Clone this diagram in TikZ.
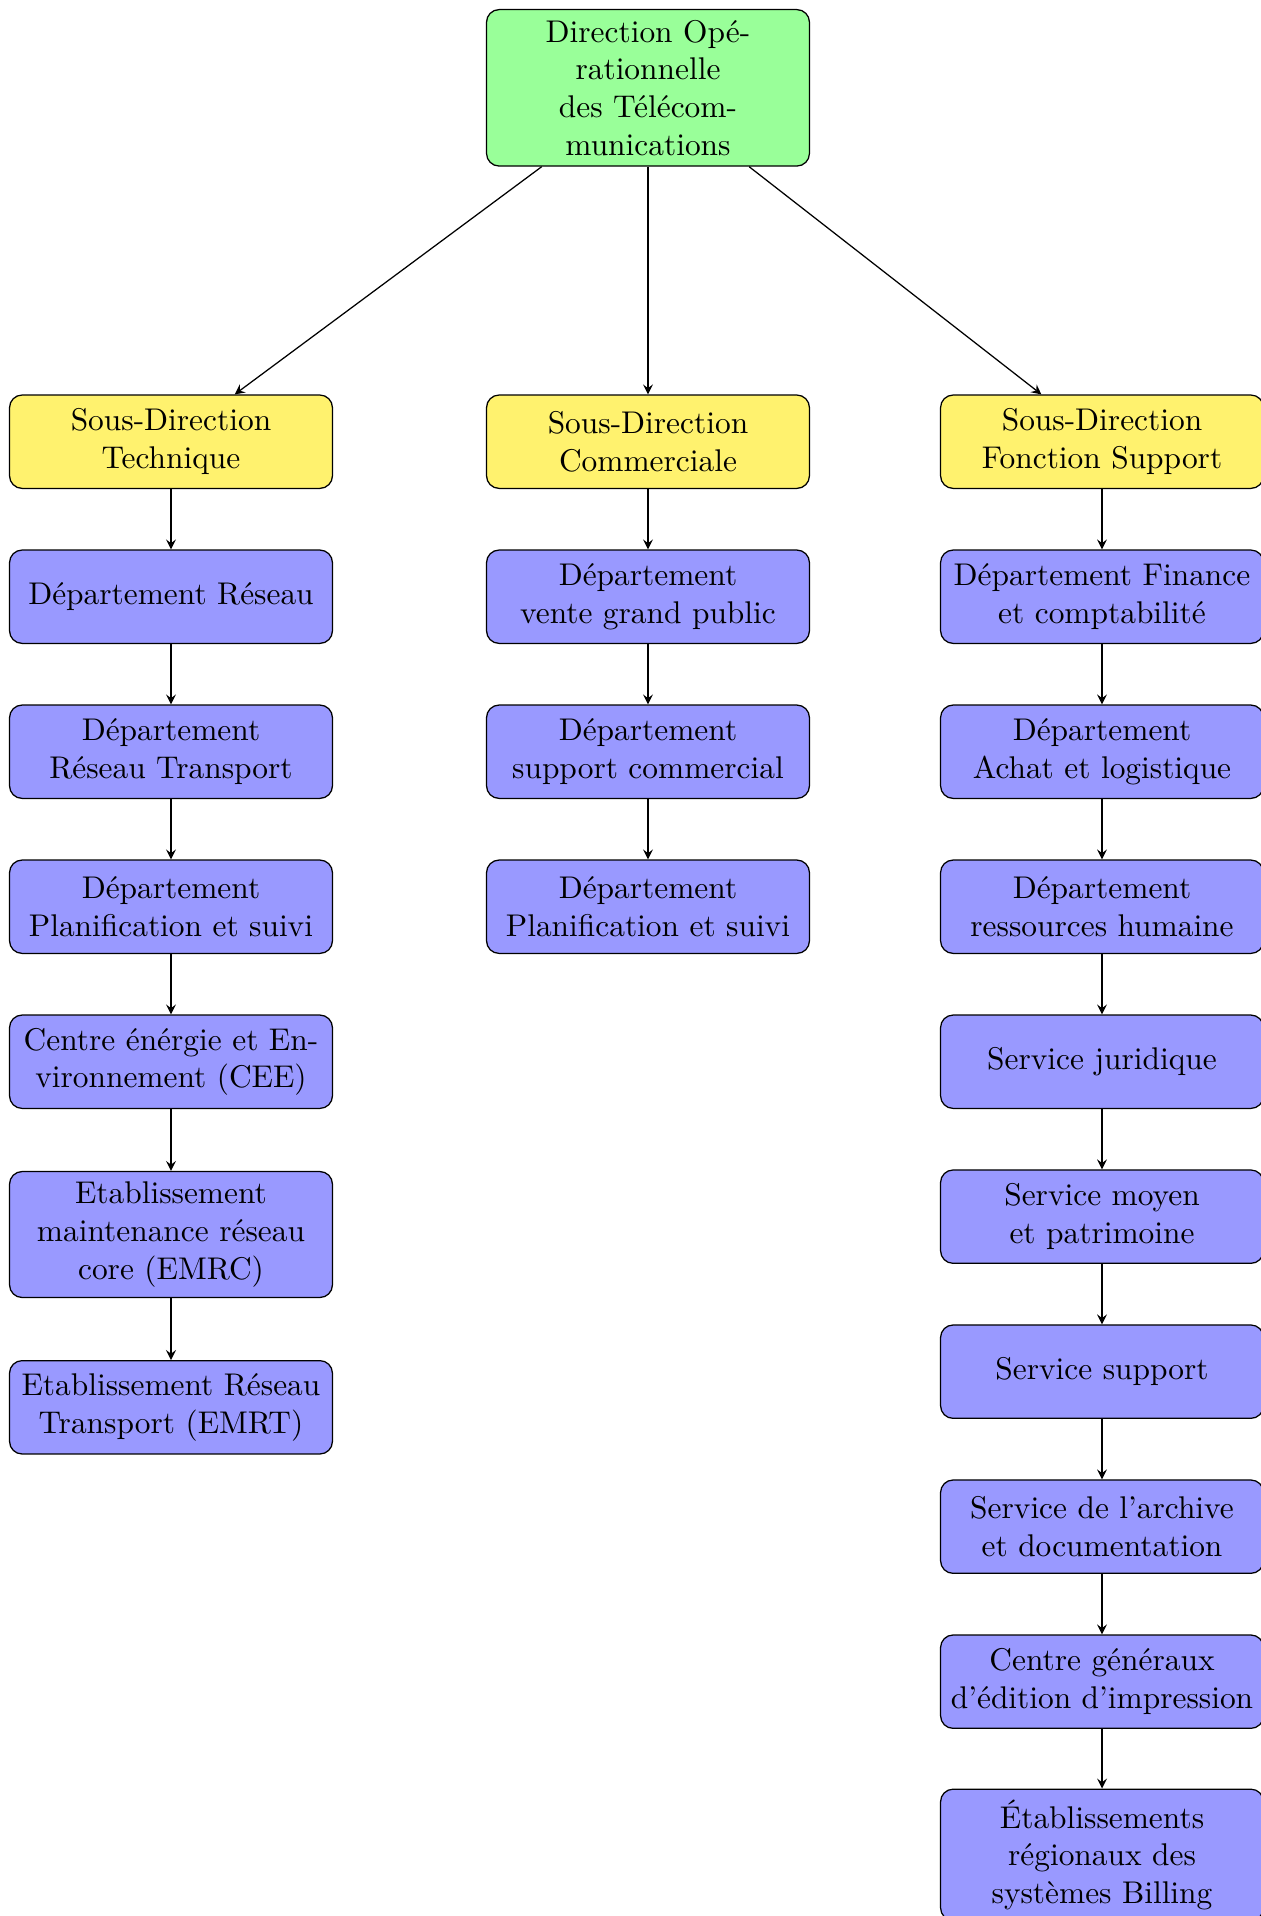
\documentclass[tikz,border=0pt]{standalone}
\definecolor{dotgreen}{RGB}{153,255,153}
\definecolor{sdyellow}{RGB}{255,242,110}
\definecolor{deptblue}{RGB}{153,153,255}
\usepackage{amsmath}
\usepackage{tikz}

\begin{document}
\begin{tikzpicture}[>=stealth]

%
% Styles
%
\tikzstyle{unit} = [rectangle,rounded corners,draw=black,inner xsep=1pt,text width=3.544cm,align=center,minimum height=1.045cm]
\tikzstyle{direction} = [unit,fill=dotgreen]
\tikzstyle{sousdir} = [unit,fill=sdyellow]
\tikzstyle{dept} = [unit,fill=deptblue]

\useasboundingbox (0,0) rectangle (14.114,-21.446);

\node[direction] (dot) at (7.253,-0.983) {Direction Op\'e-\\rationnelle\\des T\'el\'ecom-\\munications};

\node[sousdir] (sdt) at (1.914,-4.944) {Sous-Direction\\Technique};
\node[sousdir] (sdc) at (7.253,-4.944) {Sous-Direction\\Commerciale};
\node[sousdir] (sdf) at (12.335,-4.944) {Sous-Direction\\Fonction Support};

% technique
\node[dept] (reseau) at (1.914,-6.679) {D\'epartement R\'eseau};
\node[dept] (transport) at (1.914,-8.414) {D\'epartement\\R\'eseau Transport};
\node[dept] (planift) at (1.914,-10.149) {D\'epartement\\Planification et suivi};
\node[dept] (cee) at (1.914,-11.884) {Centre \'en\'ergie et En-\\vironnement (CEE)};
\node[dept] (emrc) at (1.914,-13.818) {Etablissement\\maintenance r\'eseau\\core (EMRC)};
\node[dept] (emrt) at (1.914,-15.752) {Etablissement R\'eseau\\Transport (EMRT)};

% commerciale
\node[dept] (vente) at (7.253,-6.679) {D\'epartement\\vente grand public};
\node[dept] (supcom) at (7.253,-8.414) {D\'epartement\\support commercial};
\node[dept] (planifc) at (7.253,-10.149) {D\'epartement\\Planification et suivi};

% fonction support
\node[dept] (finance) at (12.335,-6.679) {D\'epartement Finance\\et comptabilit\'e};
\node[dept] (achat) at (12.335,-8.414) {D\'epartement\\Achat et logistique};
\node[dept] (rh) at (12.335,-10.149) {D\'epartement\\ressources humaine};
\node[dept] (jur) at (12.335,-11.884) {Service juridique};
\node[dept] (moyen) at (12.335,-13.618) {Service moyen\\et patrimoine};
\node[dept] (support) at (12.335,-15.353) {Service support};
\node[dept] (archive) at (12.335,-17.088) {Service de l'archive\\et documentation};
\node[dept] (edition) at (12.335,-18.823) {Centre g\'en\'eraux\\d'\'edition d'impression};
\node[dept] (billing) at (12.335,-20.761) {\'Etablissements\\r\'egionaux des\\syst\`emes Billing};

\draw[->] (dot) -- (sdt);
\draw[->] (dot) -- (sdc);
\draw[->] (dot) -- (sdf);

\draw[->] (sdt) -- (reseau);
\draw[->] (reseau) -- (transport);
\draw[->] (transport) -- (planift);
\draw[->] (planift) -- (cee);
\draw[->] (cee) -- (emrc);
\draw[->] (emrc) -- (emrt);

\draw[->] (sdc) -- (vente);
\draw[->] (vente) -- (supcom);
\draw[->] (supcom) -- (planifc);

\draw[->] (sdf) -- (finance);
\draw[->] (finance) -- (achat);
\draw[->] (achat) -- (rh);
\draw[->] (rh) -- (jur);
\draw[->] (jur) -- (moyen);
\draw[->] (moyen) -- (support);
\draw[->] (support) -- (archive);
\draw[->] (archive) -- (edition);
\draw[->] (edition) -- (billing);

\end{tikzpicture}
\end{document}
